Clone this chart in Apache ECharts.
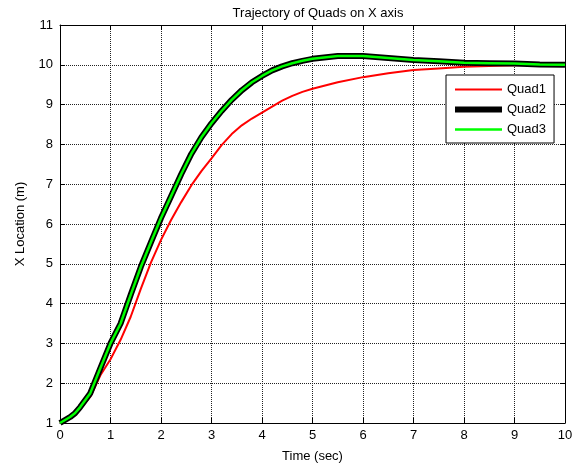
<!DOCTYPE html>
<html>
<head>
<meta charset="utf-8">
<script src="https://cdn.jsdelivr.net/npm/echarts@6/dist/echarts.min.js"></script>
<style>
  html, body { margin: 0; padding: 0; background: #fff; }
  #chart { width: 585px; height: 472px; }
</style>
</head>
<body>
<div id="chart"></div>
<script>
// time samples (sec)
const time = [0, 0.2, 0.3, 0.4, 0.6, 0.8, 1.0, 1.2, 1.4, 1.6, 1.8, 2.0, 2.2, 2.4, 2.6, 2.8,
  3.0, 3.2, 3.4, 3.6, 3.8, 4.0, 4.2, 4.4, 4.6, 4.8, 5.0, 5.5, 6.0, 6.5, 7.0, 7.5, 8.0, 8.5, 9.0, 9.5, 10]
// X location of each quad (m)
const quad1 = [1.0, 1.12, 1.2, 1.35, 1.66, 2.2, 2.6, 3.09, 3.67, 4.37, 5.03, 5.6, 6.1, 6.55, 6.97, 7.33,
  7.65, 7.98, 8.26, 8.48, 8.65, 8.8, 8.95, 9.1, 9.22, 9.32, 9.4, 9.56, 9.69, 9.79, 9.87, 9.91, 9.95, 9.97, 9.99, 10.0, 10.0]
const quad2 = [1.0, 1.15, 1.25, 1.4, 1.75, 2.38, 3.0, 3.5, 4.22, 4.92, 5.54, 6.15, 6.7, 7.25, 7.76, 8.18,
  8.53, 8.84, 9.12, 9.36, 9.56, 9.72, 9.86, 9.96, 10.04, 10.1, 10.15, 10.22, 10.22, 10.17, 10.12, 10.09, 10.05, 10.04, 10.03, 10.01, 10.0]
const quad3 = quad2.slice()

const xTicks = [0, 1, 2, 3, 4, 5, 6, 7, 8, 9, 10]
const yTicks = [1, 2, 3, 4, 5, 6, 7, 8, 9, 10, 11]

const font = "'Liberation Sans', Arial, sans-serif"
const pair = arr => time.map((t, i) => [t, arr[i]])

const gridLine = {show: true, lineStyle: {color: '#222', type: [1, 1], width: 1}}
const frame = {show: true, onZero: false, lineStyle: {color: '#000', width: 1}}
const tick = {show: true, inside: true, length: 5, lineStyle: {color: '#000'}}

const chart = echarts.init(document.getElementById('chart'))
chart.setOption({
  animation: false,
  backgroundColor: '#fff',
  title: {
    text: 'Trajectory of Quads on X axis',
    left: 313, top: 2, textAlign: 'center',
    textStyle: {fontFamily: font, fontSize: 13, fontWeight: 'normal', color: '#000'}
  },
  grid: {left: 60, right: 20, top: 25, bottom: 49},
  legend: {
    orient: 'vertical',
    left: 446, top: 75,
    padding: [8, 8, 7, 9],
    itemWidth: 47, itemHeight: 14, itemGap: 7,
    symbolKeepAspect: true,
    backgroundColor: '#fff',
    borderColor: '#000', borderWidth: 1,
    textStyle: {fontFamily: font, fontSize: 13, color: '#000'},
    data: [
      {name: 'Quad1', icon: 'path://M0,0H47V2H0Z'},
      {name: 'Quad2', icon: 'path://M0,0H47V6H0Z'},
      {name: 'Quad3', icon: 'path://M0,0H47V2.5H0Z'}
    ]
  },
  xAxis: [
    {
      type: 'value', min: 0, max: 10, interval: 1,
      name: 'Time (sec)', nameLocation: 'middle', nameGap: 27,
      nameTextStyle: {fontFamily: font, fontSize: 13, color: '#000'},
      axisLine: frame, axisTick: tick, splitLine: gridLine,
      axisLabel: {
        margin: 6, fontFamily: font, fontSize: 13, color: '#000',
        formatter: v => xTicks.includes(v) ? String(v) : ''
      }
    },
    {
      type: 'value', position: 'top', min: 0, max: 10, interval: 1,
      axisLine: frame, axisTick: tick, axisLabel: {show: false}, splitLine: {show: false}
    }
  ],
  yAxis: [
    {
      type: 'value', min: 1, max: 11, interval: 1,
      name: 'X Location (m)', nameLocation: 'middle', nameGap: 33,
      nameTextStyle: {fontFamily: font, fontSize: 13, color: '#000'},
      axisLine: frame, axisTick: tick, splitLine: gridLine,
      axisLabel: {
        margin: 7, fontFamily: font, fontSize: 13, color: '#000',
        formatter: v => yTicks.includes(v) ? String(v) : ''
      }
    },
    {
      type: 'value', position: 'right', min: 1, max: 11, interval: 1,
      axisLine: frame, axisTick: tick, axisLabel: {show: false}, splitLine: {show: false}
    }
  ],
  series: [
    {
      name: 'Quad1', type: 'line', data: pair(quad1), symbol: 'none',
      lineStyle: {color: '#ff0000', width: 2}, itemStyle: {color: '#ff0000'}, z: 2
    },
    {
      name: 'Quad2', type: 'line', data: pair(quad2), symbol: 'none',
      lineStyle: {color: '#000', width: 6}, itemStyle: {color: '#000'}, z: 3
    },
    {
      name: 'Quad3', type: 'line', data: pair(quad3), symbol: 'none',
      lineStyle: {color: '#00ff00', width: 2.5}, itemStyle: {color: '#00ff00'}, z: 4
    }
  ]
})
</script>
</body>
</html>
